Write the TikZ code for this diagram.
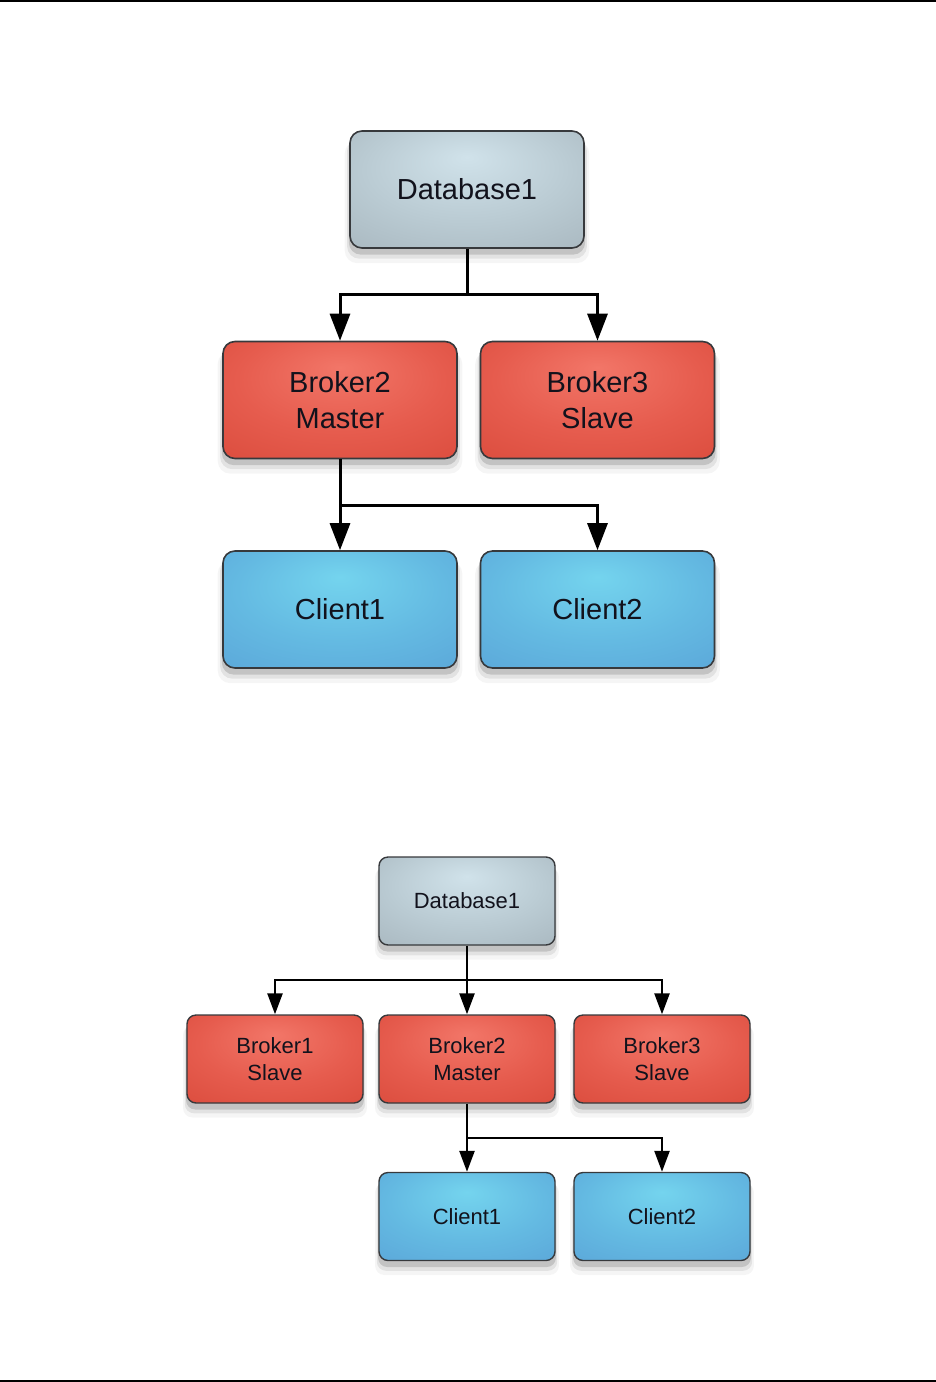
\documentclass[tikz,border=0pt]{standalone}
\usepackage{fontspec}
\setmainfont{Liberation Sans}
\usetikzlibrary{arrows.meta,shadows}
\definecolor{txt}{RGB}{18,18,28}
\definecolor{edge}{RGB}{55,57,60}
\pgfdeclareradialshading{grayhl}{\pgfpoint{0bp}{14bp}}{%
  color(0bp)=(rgb,255:red,208;green,226;blue,234);
  color(22bp)=(rgb,255:red,186;green,203;blue,211);
  color(55bp)=(rgb,255:red,155;green,168;blue,176)}
\pgfdeclareradialshading{redhl}{\pgfpoint{0bp}{14bp}}{%
  color(0bp)=(rgb,255:red,242;green,118;blue,104);
  color(22bp)=(rgb,255:red,230;green,92;blue,78);
  color(55bp)=(rgb,255:red,210;green,64;blue,48)}
\pgfdeclareradialshading{bluehl}{\pgfpoint{0bp}{14bp}}{%
  color(0bp)=(rgb,255:red,116;green,212;blue,238);
  color(22bp)=(rgb,255:red,100;green,186;blue,226);
  color(55bp)=(rgb,255:red,84;green,152;blue,210)}
\tikzset{
  softshadow/.style={
    drop shadow={shadow xshift=0pt,shadow yshift=-12pt,opacity=0.08,shadow scale=1.045},
    drop shadow={shadow xshift=0pt,shadow yshift=-9pt,opacity=0.16,shadow scale=1.025},
    drop shadow={shadow xshift=0pt,shadow yshift=-6pt,opacity=0.32,shadow scale=1.01}},
  bigbox/.style={draw=edge,line width=1.6pt,rounded corners=12pt,
    minimum width=234pt,minimum height=117pt,align=center,text=txt,
    font=\fontsize{29}{36}\selectfont,softshadow,inner sep=0pt},
  smallbox/.style={draw=edge,line width=1.4pt,rounded corners=9pt,
    minimum width=176pt,minimum height=88pt,align=center,text=txt,
    font=\fontsize{22}{27}\selectfont,softshadow,inner sep=0pt},
  grayfill/.style={shading=grayhl},
  redfill/.style={shading=redhl},
  bluefill/.style={shading=bluehl},
  bigline/.style={line width=3pt,black},
  bigarr/.style={bigline,-{Triangle[length=27pt,width=20pt]}},
  smallline/.style={line width=2.5pt,black},
  smallarr/.style={smallline,-{Triangle[length=21pt,width=15pt]}},
  rule/.style={line width=2pt,black}
}
\begin{document}
\begin{tikzpicture}[x=1pt,y=-1pt]
\useasboundingbox (0,0) rectangle (936,1382);
% page rules
\coordinate (tl) at (0,1); \coordinate (tr) at (936,1);
\coordinate (bl) at (0,1381); \coordinate (br) at (936,1381);
\draw[rule] (tl) -- (tr);
\draw[rule] (bl) -- (br);

% ---------- diagram 1 ----------
\node[bigbox,grayfill] (dbA) at (467,189.5) {Database1};
\node[bigbox,redfill] (b2A) at (340,400) {Broker2\\Master};
\node[bigbox,redfill] (b3A) at (597.5,400) {Broker3\\Slave};
\node[bigbox,bluefill] (c1A) at (340,609.5) {Client1};
\node[bigbox,bluefill] (c2A) at (597.5,609.5) {Client2};
\coordinate (jA1) at (467,294);
\coordinate (jA2) at (340,505);
\draw[bigline] (dbA.south) -- (jA1);
\draw[bigarr] (jA1) -| (b2A.north);
\draw[bigarr] (jA1) -| (b3A.north);
\draw[bigline] (b2A.south) -- (jA2);
\draw[bigarr] (jA2) -- (c1A.north);
\draw[bigarr] (jA2) -| (c2A.north);

% ---------- diagram 2 ----------
\node[smallbox,grayfill] (dbB) at (467,901) {Database1};
\node[smallbox,redfill] (b1B) at (275,1059) {Broker1\\Slave};
\node[smallbox,redfill] (b2B) at (467,1059) {Broker2\\Master};
\node[smallbox,redfill] (b3B) at (662,1059) {Broker3\\Slave};
\node[smallbox,bluefill] (c1B) at (467,1216.5) {Client1};
\node[smallbox,bluefill] (c2B) at (662,1216.5) {Client2};
\coordinate (jB1) at (467,980);
\coordinate (jB2) at (467,1138);
\draw[smallline] (dbB.south) -- (jB1);
\draw[smallarr] (jB1) -| (b1B.north);
\draw[smallarr] (jB1) -- (b2B.north);
\draw[smallarr] (jB1) -| (b3B.north);
\draw[smallline] (b2B.south) -- (jB2);
\draw[smallarr] (jB2) -- (c1B.north);
\draw[smallarr] (jB2) -| (c2B.north);
\end{tikzpicture}
\end{document}
